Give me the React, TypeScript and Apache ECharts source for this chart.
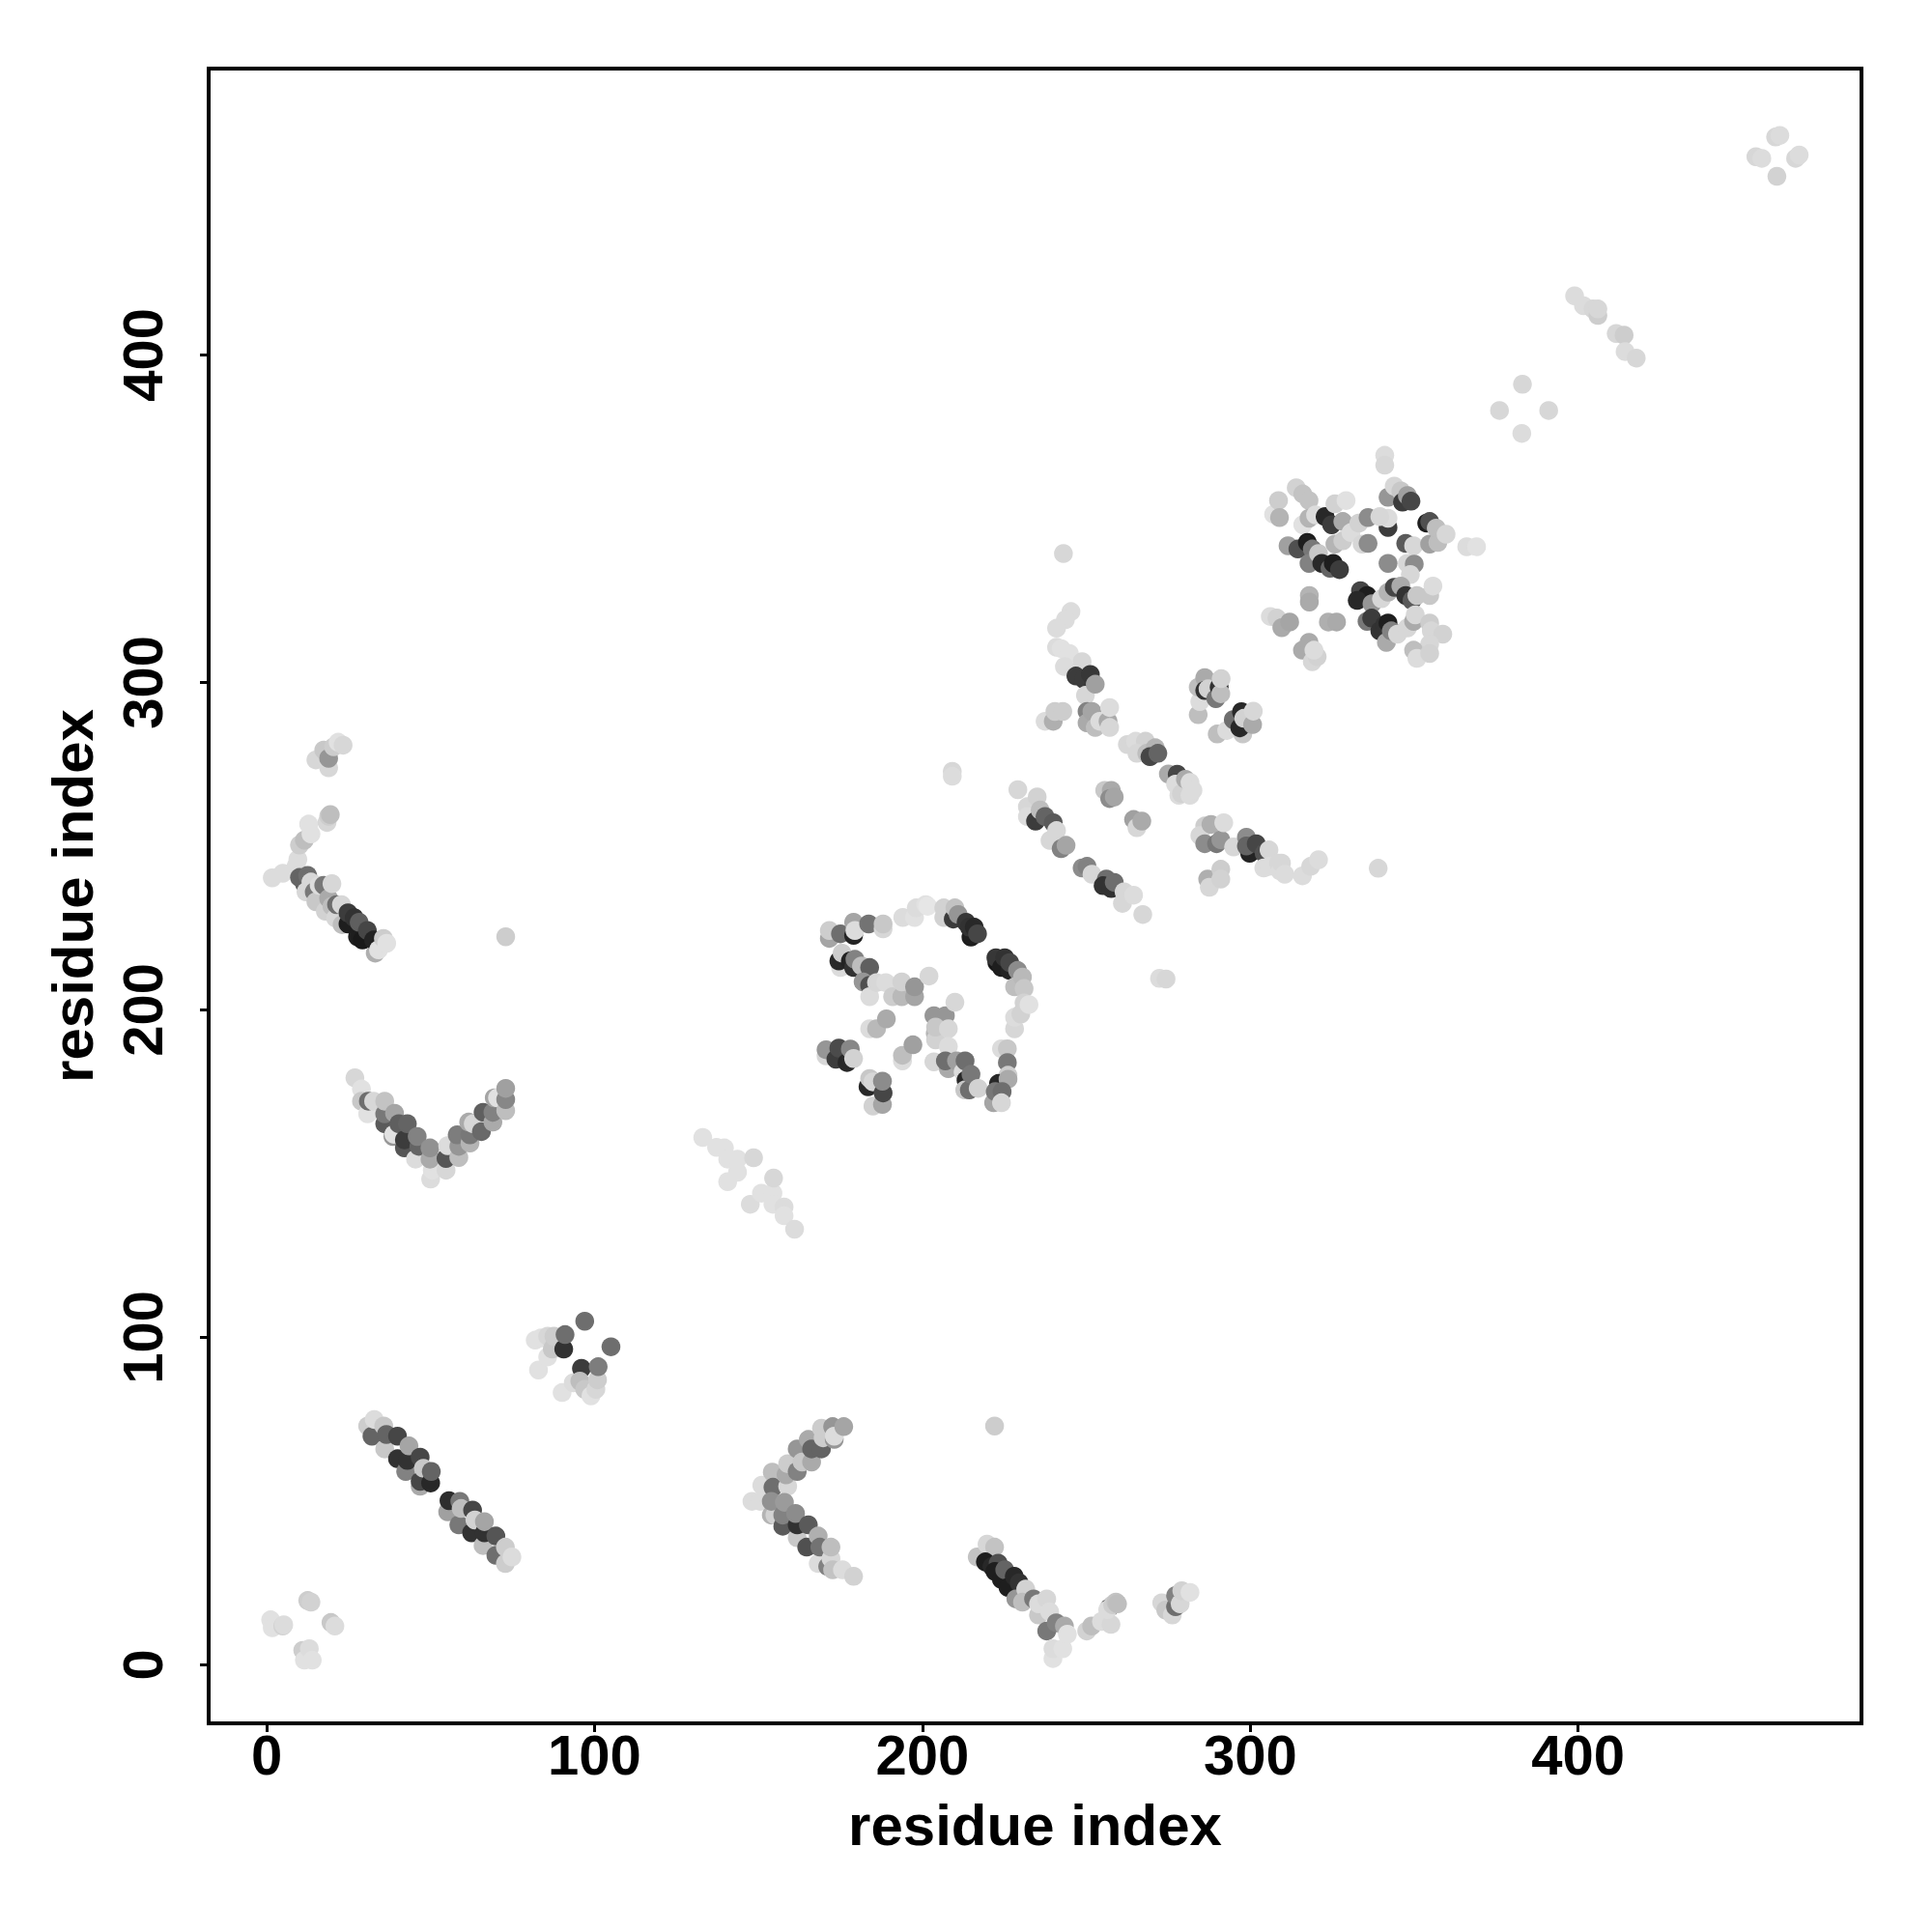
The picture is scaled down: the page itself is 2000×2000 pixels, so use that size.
import React, { useEffect, useRef } from "react";
import * as echarts from "echarts";

type P = [number, number, number];
const tickValues = [0, 100, 200, 300, 400];
const axisTitle = "residue index";

const cornerLow: P[] = [[1.2,13.7,225],[1.7,11.3,225],[4.9,11.8,210],[5.2,12.2,220],[11,4.4,205],[11.5,1.4,225],[13,4.9,220],[13.9,1.4,225],[12.5,19.6,205],[13.5,19.1,210],[19.6,12.9,200],[20.8,11.8,220]];
const vShape: P[] = [[26.9,179.2,215],[28.9,175.8,225],[28.9,172.1,200],[30.8,168.2,225],[31,172.1,110],[32.6,172.1,215],[36,165.2,90],[36,168.2,120],[36,172.1,195],[39,168.4,165],[38.5,161.3,150],[38.8,162,225],[42,157.8,85],[40.3,165.2,95],[42,160.3,60],[42.9,165.2,100],[45.4,154.4,220],[46.4,158.3,100],[45.9,161.3,130],[50,148.3,220],[50.5,151,225],[49.8,154.4,170],[49.8,157.8,145],[54.7,151,215],[54.7,154.6,85],[55.2,158.5,220],[58.6,154.9,190],[58.6,158.3,150],[58.1,161.8,125],[62,159.3,180],[62,161.8,120],[61.6,165.7,170],[63,165.2,215],[65.5,162.8,105],[66,168.7,95],[69,165.7,170],[69,168.7,130],[69.4,173.1,165],[70.4,173.1,225],[72.9,169.2,190],[72.9,172.6,135],[72.9,176,160]];
const knot100: P[] = [[81.9,99.1,225],[83.7,99.8,225],[82.9,90,225],[85.7,94,225],[85.7,100.3,215],[87.1,96.4,200],[87.6,100.3,205],[90.6,96.4,50],[91,100.8,110],[97,104.9,110],[105,97.1,110],[90.1,83.1,225],[93.5,86.1,220],[96,90.5,60],[95.5,86.6,190],[97,84.1,200],[98.9,82.1,225],[100.4,84.1,215],[100.9,87,205],[101.1,91,125]];
const armTop: P[] = [[15,276.3,215],[18.9,273.9,215],[17.4,279.3,200],[18.9,276.8,150],[20.4,280.3,205],[21.8,281.7,225],[23.3,280.8,215]];
const armMid: P[] = [[9.5,245.9,220],[9,243.9,220],[10,250.3,205],[11.5,251.8,190],[12.8,256.7,225],[13.5,253.7,225],[18.4,257.2,215],[18.9,259.1,205],[19.4,259.6,190]];
const armDiag: P[] = [[1.7,240.3,220],[4.9,241.7,220],[11.5,238.5,90],[10,240.4,100],[12.5,241,110],[12,236,215],[13.5,239,215],[14.5,236,120],[15,233,200],[16,238,220],[17.4,238,120],[17.9,230.1,210],[18.9,234,170],[19.9,238.5,215],[19.9,231.6,190],[21,228,215],[21.3,232.1,110],[22.8,232.1,215],[23,226,190],[24.8,226.2,30],[24.8,229.6,60],[26.7,228.1,50],[27.7,222.3,30],[28.2,226.7,95],[29.2,221.3,25],[30.7,224.2,70],[33.1,217.3,175],[32.6,221.3,35],[34.1,218.3,225],[35.6,221.8,205],[36.6,220.3,225]];
const single73: P[] = [[72.9,222.3,205],[222,72.9,205],[243,339.3,215],[339,243.2,215]];
const strandLow: P[] = [[30.8,72.9,205],[32.1,69.8,100],[32.8,74.9,220],[36,65.9,200],[35.7,72.9,200],[36.5,70.3,100],[39.9,62.9,50],[39.9,69.8,70],[42.4,59,130],[42.9,62.4,50],[43.4,66.8,165],[46.8,54.5,170],[46.8,56,70],[46.8,63.4,70],[47.8,60,200],[50,55.5,40],[50.2,59,100],[55.2,46.7,160],[55.6,50.1,45],[58.6,42.7,120],[58.9,49.9,120],[59.3,47.7,190],[62.5,40.3,50],[62.8,47.2,70],[63.5,44.2,210],[66,36.4,190],[66.4,40.3,50],[66.4,43.7,165],[69.9,33.4,110],[69.9,39.3,85],[72.8,30.9,205],[72.8,35.9,205],[74.8,32.9,220]];
const chevronLow: P[] = [[148,49.9,220],[151,54.8,220],[150.5,49.9,220],[153.9,45.7,180],[155,45.7,210],[154.2,58.8,190],[154.4,54.2,110],[153.9,49.9,145],[158.9,54.5,215],[158.4,58,170],[157.4,42.3,90],[157.4,45.7,130],[157.9,49.6,155],[161.8,38.8,200],[161.8,42.7,50],[158.9,61.4,205],[161.3,46.2,140],[161.8,59,130],[161.8,65.9,150],[163.3,61.9,200],[164.7,35.9,80],[165.2,42.7,90],[165.2,68.8,170],[166.2,61.9,170],[166.2,65.9,100],[168.2,30.9,220],[168.2,39.3,175],[168.7,35.9,115],[169.2,65.9,100],[169.2,72.2,205],[169.7,69.3,205],[171.1,30,130],[172.1,32.4,215],[172.6,29,195],[172.1,35.9,190],[173.1,68.8,150],[172.6,72.7,150],[173.1,69.8,220],[176,72.7,165],[175.6,29,220],[179,27,210]];
const streak140: P[] = [[133,161,225],[137.2,158,225],[139.6,157.8,225],[140.6,154.4,225],[143.6,154.4,225],[143.6,150.4,225],[140.6,147.5,225],[148.5,154.8,215],[147.5,140.6,220],[150.9,144,225],[154.4,144,225],[154.4,140.6,225],[154.6,148.6,215],[157.8,139.8,220],[157.8,137.1,225],[161,133,220]];
const ringLeft: P[] = [[171.6,221.8,165],[171.6,224.2,205],[175,223.2,110],[179,226.7,165],[179,222.7,35],[179.4,224.2,220],[183.6,226.2,115],[188,224.7,215],[188,226.2,200],[175,212.9,220],[174.5,214.9,40],[175.5,217.3,205],[178,214.9,35],[179,212.9,50],[179.4,215.4,130],[181.4,213.4,190],[183.9,212.9,95],[181.9,208.5,150],[183.9,207.5,80],[183.9,204,220],[186,208.3,215],[188.8,208.3,220],[190.9,204,205],[193.7,204,185],[193.7,208.5,210],[197.6,204,165],[197.6,207,150],[202,210.3,215],[183.9,194.2,220],[186,194.2,185],[189,197.2,170],[193.9,184.4,220],[193.9,186.1,190],[197.1,189.3,160]];
const ringInner: P[] = [[203.5,198.2,150],[207,198.2,150],[203.9,192.8,180],[204,190.8,210],[204,194.7,200],[207.9,194.2,215],[209.9,202.3,215],[207.9,188.8,220],[203.5,184.1,215],[207.9,182,170],[207,184.4,110],[210.4,184.4,160],[212.4,181,220],[213,184.4,110],[213.3,178.5,40],[212.9,175.5,200],[214.3,175.5,110],[214.8,180.3,120],[217,176,210]];
const ringRight: P[] = [[224.1,188.1,220],[225.9,188.1,200],[225.9,183.9,120],[226.1,180,205],[223.2,177.5,40],[226.1,178.8,170],[221.7,171.6,165],[222.2,175,120],[224.3,175,110],[224.1,171.6,215],[170.6,185.9,215],[170.6,187.8,150],[173.6,184.9,60],[174.5,188.3,75],[177,183.9,40],[178,188,135],[179,185.1,210],[184.9,170.6,210],[183.4,176.5,40],[183.9,179,200],[184.9,178,215],[187.8,171.1,165],[188,174.6,70],[187.8,178.2,140]];
const ringTop: P[] = [[194,228.2,220],[197.6,228.2,225],[198.1,231.1,220],[201,232.1,225],[201.6,231.6,230],[206.5,228.2,210],[206.5,231.1,210],[209.4,227.7,60],[209.9,231.1,195],[210.9,229.1,150],[214.8,222.2,30],[213.3,226.7,55],[214.3,225.2,50],[215.8,225.2,40],[216.8,223.2,70],[222.7,214.4,25],[222.4,215.9,55],[224.1,212.9,30],[225.1,215.9,50],[226.6,212,35],[226.6,214.4,70],[229,212,140],[228.1,207,190],[230.5,210,185],[231,206.5,200],[228.1,194.2,215],[228.1,197.7,220],[230,198.7,210],[231,202.1,210],[232.5,201.6,225]];
const bendLow: P[] = [[216.7,32.9,195],[219.7,36.8,215],[222,35.9,195],[219.2,31.4,30],[221.2,30,40],[223.1,31,80],[222.1,28.5,30],[224.1,26,30],[225.1,29,100],[226.1,23.6,30],[228,27,40],[229.5,25,50],[228.5,20.1,150],[231.5,23.1,210],[230.5,19.1,190],[233.9,20.1,120],[235.4,15.2,200],[235.4,18.6,220],[237.9,10.3,120],[237.9,20.1,215],[238.8,16.2,220],[239.8,1.9,225],[239.8,4.9,220],[240.8,12.8,130],[242.8,4.9,225],[243.3,11.8,170],[244.2,9.3,225],[250.1,10.3,210],[251.6,11.8,190],[254.6,13.2,220],[257.5,12.3,215],[257,17.4,60],[256.5,16.8,220],[258,18.3,205],[259,19.1,195],[259.5,18.6,190],[273,18.9,215],[274.2,16.7,200],[276.2,15.2,215],[277.2,17.7,110],[277.2,21.1,130],[278.6,18.6,215],[279.1,22.6,210],[281.6,22.1,225]];
const hairpin290: P[] = [[245.3,321.6,220],[243.6,319.1,220],[240.9,316.5,220],[240.9,310.7,220],[242.3,310.3,225],[244.8,308.8,225],[243.3,304.8,220],[248.7,306.3,215],[246.8,301.9,60],[249.2,300.9,60],[251.2,302.4,55],[249.7,296,215],[252.7,299.4,160],[237.4,288.1,220],[239.9,288.1,175],[240.4,291.1,205],[242.8,291.1,205],[250.2,291.1,130],[250.2,287.6,170],[251.7,291.1,165],[252.7,286.2,190],[254.1,288.1,220],[256.6,288.1,170],[257.1,286.2,215],[257.1,292.3,220]];
const groupA: P[] = [[284.1,290.1,190],[284.6,294.1,220],[284.1,298.5,190],[286.1,301.4,170],[286.1,297.5,50],[287.1,298,210],[289.5,295,120],[290.5,298.5,50],[291,296.5,190],[291.1,301.1,210],[289.9,284.2,190],[292.8,285.3,220],[294.8,288.6,110],[297.7,284.2,200],[296.8,286.1,40],[297.3,291,40],[298,289,210],[300.7,287.1,170],[300.9,291.2,215]];
const groupB: P[] = [[262.5,281,215],[265,282,220],[268,282,210],[265.4,278.3,215],[268.4,278.3,190],[271,280,180],[269.4,277.3,70],[271.8,278.3,100],[275,272,170],[277.7,271.9,70],[277.2,268.9,220],[278.2,265.5,220],[279,266,210],[280.2,270.4,170],[281.6,269.4,220],[281.6,265.5,220],[282.5,267,220],[229.1,267.2,215],[232,262,215],[232,259,220],[235,265,210],[234.5,257.6,60],[235.9,261,190],[237.4,259,100],[239.9,257.1,90],[238.9,251.7,215],[240.9,254.7,215],[242.3,249.2,130],[243.8,250.2,165],[255.6,267,200],[257.6,267,170],[257.1,264.5,140],[258.5,265,165],[264.4,258.1,160],[265.4,255.6,215],[266.9,257.6,170],[248.7,243.3,140],[250.2,243.8,130],[251.7,241.4,215],[256.1,239.9,110],[255.1,237.9,50],[257.6,237,50],[258.5,238.9,110],[261,232.5,215],[261.5,236,215],[264.4,235,220],[267.2,229.1,215],[272.3,209.6,220],[274.3,209.4,215],[209.1,272.8,215],[209.1,271.3,220]];
const groupC: P[] = [[286.1,256.1,205],[284.6,253.2,215],[286.1,250.7,140],[288,256.6,175],[289.7,250.7,120],[291,251.9,150],[291.9,257.1,220],[287,239.9,175],[287.5,237.4,215],[291,242.9,205],[291,239.9,210],[294.9,249.7,215],[298.8,252.7,140],[299.8,247.8,35],[298.8,250,100],[301.8,250.7,70],[304.2,247.8,80],[304.1,243.3,220],[305.7,248.8,215],[305.7,243.8,220],[308.6,244.8,215],[309.1,242.4,220],[309.5,244.8,215],[310.5,241.4,220],[315.9,240.9,220],[318.4,243.8,215],[320.8,245.8,220]];
const blobNorth: P[] = [[341,369.3,220],[341,366.3,215],[307.1,351.3,225],[308.6,355.5,205],[308.9,350.3,180],[314,359.4,210],[316,357.5,195],[317.9,355.5,195],[316,348.1,225],[317.9,350.1,180],[319.9,351.1,220],[311.5,341.7,160],[314.5,340.7,80],[317.4,342.7,30],[318.9,340.7,120],[317.9,336.3,130],[320.8,339.3,200],[321.8,336.3,40],[324.3,334.8,100],[325.3,336.3,30],[327.2,334.4,60],[322.8,350.6,40],[324.8,348.1,60],[325.8,354.5,210],[329.2,355.5,225],[328.2,349.1,170],[325.8,342.2,180],[328.2,343.2,205],[330.7,345.7,220],[333.1,348.6,210],[335.9,350.3,140],[334.1,342.2,215],[335.9,342.4,140],[342,347.3,60],[342,350.1,220],[339.5,350.6,215]];
const blobEast: P[] = [[342,336.3,140],[347.4,342.4,90],[349.8,341.7,215],[347.9,336.3,215],[350,336.1,140],[348.8,332.9,215],[342,356.5,150],[343.9,359.9,215],[345.9,358.4,200],[346.4,355,60],[347.9,357,160],[349,355.3,70],[353.8,348.6,30],[354.7,349.1,80],[354.7,342.2,160],[357.2,342.7,190],[356.7,347.1,190],[359.7,345.2,215],[366,341.4,220],[369,341.4,225]];
const blobSouth: P[] = [[333.6,328,70],[335.6,326.5,30],[332.6,325,40],[337.1,324,150],[340,325.5,215],[342,327.5,180],[335.6,318.6,120],[337,319.6,60],[339.5,315.7,50],[341,317.6,50],[342,318.1,30],[341.5,312.2,170],[343,315.7,130],[344.9,314.7,215],[347.9,316.6,215],[343.9,329,70],[345.9,329.4,170],[347.4,326.5,50],[349.3,325,90],[350.8,326.5,200],[354.7,326.5,200],[355.7,329.4,220],[349.8,318.6,170],[350.3,320.6,215],[354.7,318.1,205],[355.2,315.7,215],[358.7,314.7,210],[354.7,311.7,215],[349.8,309.8,190],[350.8,307.3,220],[354.7,308.8,210]];
const blobWest: P[] = [[306.1,320.1,220],[308.1,319.6,210],[309.6,316.7,170],[312,318.4,165],[318,326.5,180],[318,324.5,170],[323.8,318.4,175],[326.3,318.4,170],[315.9,309.8,170],[317.9,312.2,170],[318.9,306.3,215],[320.4,307.8,210],[319.4,309.8,220]];
const upperTail: P[] = [[376,383,215],[383,391,215],[391,383,215],[382.8,376,220],[398.9,418,220],[401.6,415,220],[404.5,414,215],[406,412,205],[406,414,215],[411.6,406.5,215],[414,406,205],[414.3,401,220],[417.7,399,215],[454.2,460.5,215],[456,460,220],[460.2,466.5,215],[461.5,467,220],[460.6,454.5,210],[466.3,460,215],[467.4,461,220]];

const clusters: P[][] = [cornerLow, vShape, knot100, armTop, armMid, armDiag, single73, strandLow, chevronLow, streak140, ringLeft, ringInner, ringRight, ringTop, bendLow, hairpin290, groupA, groupB, groupC, blobNorth, blobEast, blobSouth, blobWest, upperTail];

const FONT = "Liberation Sans";

export default function App() {
  const ref = useRef<HTMLDivElement>(null);
  useEffect(() => {
    const chart = echarts.init(ref.current!, undefined, { renderer: "svg" });
    const axisBase = (min: number, max: number, nameGap: number, margin: number, rotate: number) => ({
      type: "value" as const,
      min,
      max,
      name: axisTitle,
      nameLocation: "middle" as const,
      nameGap,
      nameRotate: rotate,
      nameTextStyle: { fontFamily: FONT, fontWeight: "bold" as const, fontSize: 60, color: "#000" },
      splitLine: { show: false },
      axisLine: { show: false, onZero: false },
      axisTick: { show: true, length: 9, customValues: tickValues, lineStyle: { color: "#000", width: 3 } },
      axisLabel: {
        show: true,
        customValues: tickValues,
        rotate,
        margin,
        fontFamily: FONT,
        fontWeight: "bold" as const,
        fontSize: 58,
        color: "#000",
      },
    });
    chart.setOption({
      animation: false,
      backgroundColor: "#fff",
      grid: { left: 216, top: 71, width: 1711, height: 1713, show: true, borderColor: "#000", borderWidth: 4, backgroundColor: "transparent" },
      xAxis: axisBase(-17.7, 486.4, 75, 3, 0),
      yAxis: axisBase(-17.9, 487.4, 111, 40, 90),
      series: clusters.map((data) => ({
        type: "scatter",
        data,
        symbol: "circle",
        symbolSize: 19.5,
        silent: true,
        clip: false,
        itemStyle: {
          opacity: 1,
          color: (p: any) => {
            const g = p.value[2];
            return `rgb(${g},${g},${g})`;
          },
        },
      })),
    });
    return () => chart.dispose();
  }, []);
  return <div ref={ref} style={{ position: "absolute", left: 0, top: 0, width: 2000, height: 2000 }} />;
}
